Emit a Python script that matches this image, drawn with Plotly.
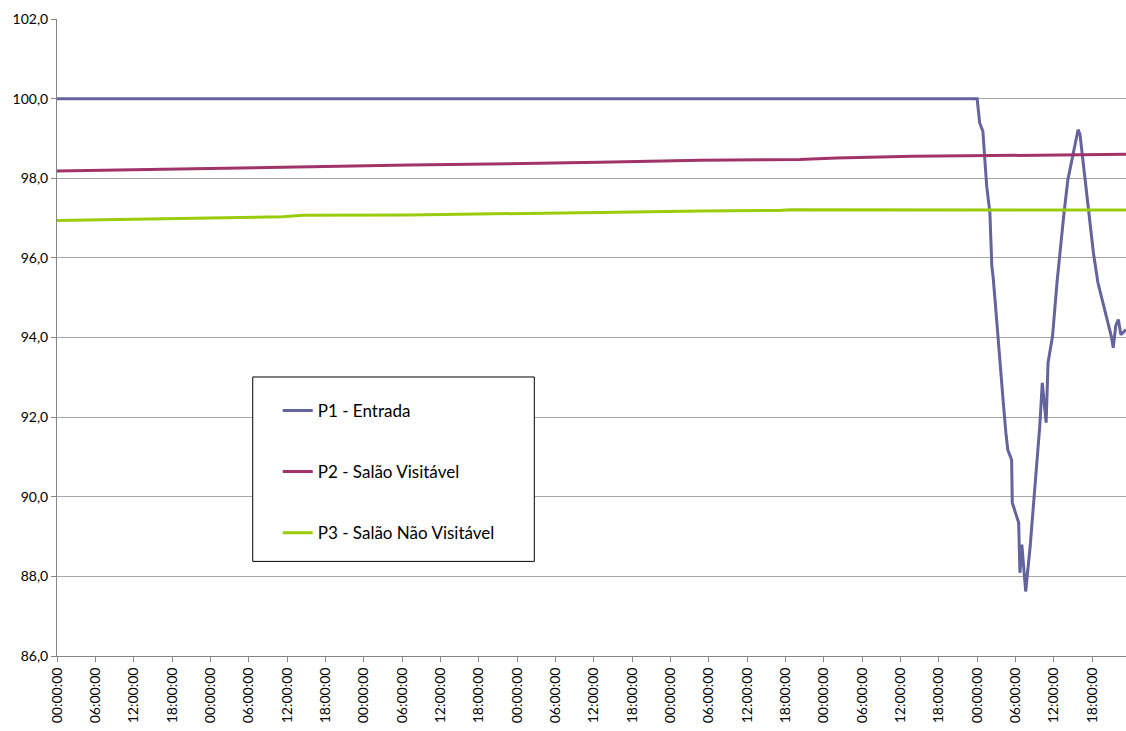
import pandas as pd
import plotly.graph_objects as go

# ---- data (hours since start, value) ----
p1_hours = [0, 144.0, 144.4, 144.9, 145.5, 146.0, 146.3, 146.5, 146.8, 147.3, 147.9, 148.1,
            148.5, 148.8, 149.4, 149.5, 150.5, 150.7, 151.0, 151.6, 152.3, 152.8, 153.5, 153.8,
            154.2, 154.8, 155.1, 155.8, 156.5, 157.0, 157.6, 158.2, 159.0, 159.8, 160.1, 160.6,
            161.4, 162.2, 162.9, 163.7, 164.3, 165.0, 165.3, 165.7, 166.1, 166.5, 167.3]
p1_values = [100.0, 100.0, 99.39, 99.18, 97.80, 97.13, 95.79, 95.53, 94.95, 94.03, 92.86, 92.36,
             91.61, 91.18, 90.93, 89.85, 89.35, 88.09, 88.80, 87.62, 88.75, 89.76, 91.11, 91.77,
             92.86, 91.86, 93.37, 94.03, 95.38, 96.20, 97.13, 97.96, 98.55, 99.22, 99.10, 98.38,
             97.13, 96.13, 95.38, 94.87, 94.53, 94.03, 93.74, 94.30, 94.45, 94.07, 94.20]

p2_hours = [0, 10.9, 29.1, 43.2, 55.2, 84.9, 100.6, 116.2, 122.0, 133.9, 154.9, 167.3]
p2_values = [98.18, 98.21, 98.27, 98.30, 98.33, 98.40, 98.45, 98.47, 98.51, 98.55, 98.57, 98.60]

p3_hours = [0, 9.3, 10.9, 27.0, 35.3, 38.5, 55.2, 84.9, 100.6, 113.0, 114.7, 167.3]
p3_values = [96.94, 96.96, 96.98, 97.00, 97.03, 97.07, 97.08, 97.14, 97.18, 97.19, 97.21, 97.20]

series_names = ["P1 - Entrada", "P2 - Salão Visitável", "P3 - Salão Não Visitável"]
series_colors = ["#63639E", "#A03468", "#9ACB0C"]

y_ticks = [86, 88, 90, 92, 94, 96, 98, 100, 102]
y_tick_labels = ["86,0", "88,0", "90,0", "92,0", "94,0", "96,0", "98,0", "100,0", "102,0"]

base = pd.Timestamp("2000-01-01 00:00:00")


def to_time(hours):
    return [base + pd.Timedelta(hours=h) for h in hours]


fig = go.Figure()
for i, (h, v) in enumerate([(p1_hours, p1_values), (p2_hours, p2_values), (p3_hours, p3_values)]):
    fig.add_trace(go.Scatter(
        x=to_time(h), y=v, mode="lines", name=series_names[i],
        line=dict(color=series_colors[i], width=3),
        legendgroup=f"g{i}",
    ))

fig.update_layout(
    width=1126, height=731,
    margin=dict(l=57, r=0, t=19, b=75),
    paper_bgcolor="white", plot_bgcolor="white",
    font=dict(family="Lato", size=14, color="#000000"),
    showlegend=True,
    legend=dict(
        x=0.2065, y=0.413, xanchor="left", yanchor="top",
        bgcolor="rgba(0,0,0,0)", borderwidth=0,
        font=dict(family="Lato", size=17, color="#000000"),
        tracegroupgap=36,
    ),
    shapes=[dict(
        type="rect", xref="paper", yref="paper",
        x0=0.1831, x1=0.4465, y0=0.1485, y1=0.438,
        fillcolor="white", line=dict(color="black", width=1), layer="above",
    )],
)

fig.update_xaxes(
    type="date",
    range=[base, base + pd.Timedelta(hours=167.3)],
    tickformat="%H:%M:%S", dtick=6 * 3600 * 1000, tick0=base,
    tickangle=-90, ticks="outside", ticklen=5, tickcolor="#868686",
    showline=True, linecolor="#868686", linewidth=1,
    showgrid=False, zeroline=False,
    tickfont=dict(family="Lato", size=14),
)
fig.update_yaxes(
    range=[86, 102], tickvals=y_ticks, ticktext=y_tick_labels,
    ticks="outside", ticklen=5, tickcolor="#868686",
    showline=True, linecolor="#868686", linewidth=1,
    showgrid=True, gridcolor="#A6A6A6", gridwidth=1, zeroline=False,
    tickfont=dict(family="Lato", size=14),
)

fig.write_html("out.html")
